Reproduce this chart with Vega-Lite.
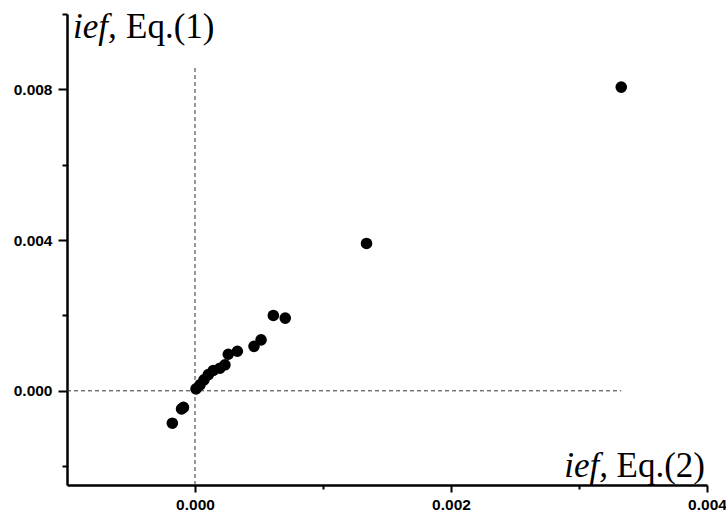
{
  "$schema": "https://vega.github.io/schema/vega-lite/v6.json",
  "width": 640,
  "height": 471,
  "autosize": {"type": "none"},
  "padding": {"left": 67, "top": 14, "right": 19, "bottom": 28},
  "background": "white",
  "config": {"view": {"stroke": null}},
  "datasets": {
    "points": [
      {"x": 0.00333, "y": 0.00806},
      {"x": 0.00134, "y": 0.00391},
      {"x": 0.000612, "y": 0.00200},
      {"x": 0.000705, "y": 0.00193},
      {"x": 0.000516, "y": 0.00135},
      {"x": 0.000461, "y": 0.00118},
      {"x": 0.000331, "y": 0.00105},
      {"x": 0.000260, "y": 0.00097},
      {"x": 0.000234, "y": 0.00069},
      {"x": 0.000195, "y": 0.00060},
      {"x": 0.000143, "y": 0.00054},
      {"x": 0.000104, "y": 0.00043},
      {"x": 0.000070, "y": 0.00029},
      {"x": 0.000039, "y": 0.00016},
      {"x": 0.000008, "y": 0.00005},
      {"x": -0.000090, "y": -0.00044},
      {"x": -0.000105, "y": -0.00048},
      {"x": -0.000177, "y": -0.00086}
    ],
    "vrule": [{"x": 0, "y": -0.0025, "y2": 0.0086}],
    "hrule": [{"x": -0.001, "x2": 0.00333, "y": 0}],
    "ytitle": [{"x": -0.001, "y": 0.010, "a": "ief,", "b": "Eq.(1)"}],
    "xtitle": [{"x": 0.004, "y": -0.0025, "a": "ief,", "b": "Eq.(2)"}]
  },
  "encoding": {
    "x": {
      "field": "x", "type": "quantitative",
      "scale": {"domain": [-0.001, 0.004], "nice": false, "zero": false},
      "axis": {
        "title": null, "grid": false,
        "values": [0, 0.001, 0.002, 0.003, 0.004],
        "labelExpr": "round(datum.value*1000)%2===0 ? format(datum.value,'.3f') : ''",
        "tickSize": {"condition": {"test": "round(datum.value*1000)%2===0", "value": 7}, "value": 4},
        "domainColor": "black", "domainWidth": 2.5, "tickColor": "black", "tickWidth": 2,
        "labelFont": "Liberation Sans", "labelFontSize": 15.5, "labelFontWeight": 600, "labelColor": "black",
        "labelPadding": 5, "labelFlush": false, "labelOverlap": false
      }
    },
    "y": {
      "field": "y", "type": "quantitative",
      "scale": {"domain": [-0.0025, 0.010], "nice": false, "zero": false},
      "axis": {
        "title": null, "grid": false,
        "values": [-0.002, 0, 0.002, 0.004, 0.006, 0.008, 0.010],
        "labelExpr": "round(datum.value*1000)%4===0 ? format(datum.value,'.3f') : ''",
        "tickSize": {"condition": {"test": "round(datum.value*1000)%4===0", "value": 9}, "value": 5},
        "domainColor": "black", "domainWidth": 2.5, "tickColor": "black", "tickWidth": 2,
        "labelFont": "Liberation Sans", "labelFontSize": 15.5, "labelFontWeight": 600, "labelColor": "black",
        "labelPadding": 6, "labelFlush": false, "labelOverlap": false
      }
    }
  },
  "layer": [
    {
      "data": {"name": "vrule"},
      "mark": {"type": "rule", "strokeDash": [4, 3], "color": "#333333", "strokeWidth": 1},
      "encoding": {"y2": {"field": "y2"}}
    },
    {
      "data": {"name": "hrule"},
      "mark": {"type": "rule", "strokeDash": [4, 3], "color": "#333333", "strokeWidth": 1},
      "encoding": {"x2": {"field": "x2"}}
    },
    {
      "data": {"name": "points"},
      "mark": {"type": "circle", "size": 135, "color": "black", "opacity": 1}
    },
    {
      "data": {"name": "ytitle"},
      "mark": {"type": "text", "font": "Liberation Serif", "fontSize": 35, "fontStyle": "italic", "color": "black", "align": "left", "baseline": "alphabetic", "dx": 6, "dy": 24},
      "encoding": {"text": {"field": "a"}}
    },
    {
      "data": {"name": "ytitle"},
      "mark": {"type": "text", "font": "Liberation Serif", "fontSize": 35, "color": "black", "align": "left", "baseline": "alphabetic", "dx": 59, "dy": 24},
      "encoding": {"text": {"field": "b"}}
    },
    {
      "data": {"name": "xtitle"},
      "mark": {"type": "text", "font": "Liberation Serif", "fontSize": 35, "fontStyle": "italic", "color": "black", "align": "right", "baseline": "alphabetic", "dx": -99, "dy": -8},
      "encoding": {"text": {"field": "a"}}
    },
    {
      "data": {"name": "xtitle"},
      "mark": {"type": "text", "font": "Liberation Serif", "fontSize": 35, "color": "black", "align": "right", "baseline": "alphabetic", "dx": -2, "dy": -8},
      "encoding": {"text": {"field": "b"}}
    }
  ]
}
